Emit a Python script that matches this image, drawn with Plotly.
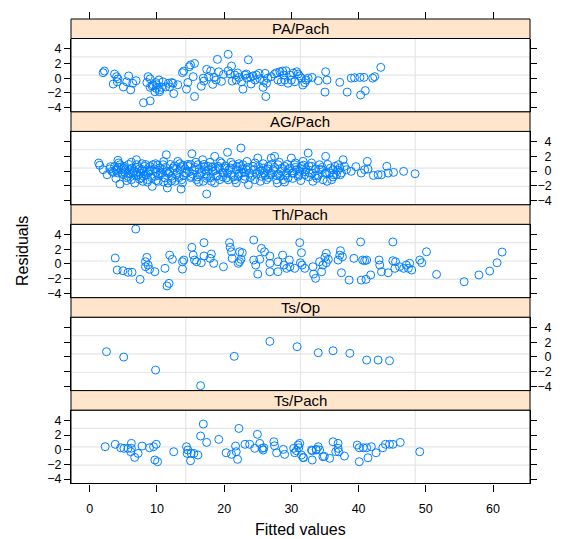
import plotly.graph_objects as go

# ---------------- data ----------------
panel_names = ["PA/Pach", "AG/Pach", "Th/Pach", "Ts/Op", "Ts/Pach"]

pa_x = [2.0, 2.2, 3.5, 3.7, 4.0, 4.2, 4.1, 5.0, 5.5, 5.8, 6.1, 6.4, 6.9, 8.0, 9.0, 8.7, 9.0, 9.0, 9.4, 9.8,
        9.7, 9.9, 10.3, 10.4, 10.7, 10.4, 11.3, 11.7, 12.2, 12.4, 12.5, 13.1, 13.8, 14.0, 14.4, 14.6, 14.8, 15.0,
        15.4, 15.6, 15.6, 16.6, 16.9, 17.4, 17.7, 18.0, 18.3, 18.5, 19.0, 18.8, 19.2, 19.6, 20.6, 20.6, 21.1,
        20.9, 21.2, 21.6, 21.8, 22.2, 22.6, 22.8, 23.1, 23.6, 23.3, 23.4, 23.9, 24.0, 24.6, 24.8, 25.2, 25.3,
        25.8, 25.9, 26.2, 26.1, 26.5, 26.3, 27.5, 27.8, 28.0, 28.3, 28.5, 28.7, 28.9, 29.0, 29.2, 29.5, 30.0,
        30.5, 30.8, 31.0, 31.2, 31.5, 31.7, 32.0, 32.2, 32.5, 33.1, 34.0, 35.0, 35.1, 35.3, 37.2, 38.3, 38.9,
        39.4, 40.2, 40.3, 40.8, 41.0, 42.1, 42.4, 43.3,
        8.5, 9.3, 10.0, 10.9, 11.9, 17.0, 19.9, 22.0, 24.3, 27.0, 29.8, 30.3]
pa_y = [0.74, 0.97, -0.8, 0.56, 0.2, -0.1, -0.5, -1.2, -0.5, 0.3, -1.6, -0.7, -0.35, -3.35, -3.1, 0.2, -0.1, -1.25,
        -0.9, -0.6, -1.85, -1.4, -0.25, -1.6, -1.25, -1.85, -1.2, -0.7, -0.6, -0.7, -2.1, -0.9, 0.74, 0.97, -1.5,
        -0.6, 1.55, 1.8, 0.2, -2.5, 2.0, -1.1, 0.0, 1.2, 0.2, 0.97, -0.85, 0.1, 2.56, -0.26, 0.87, -0.44, 3.24,
        1.0, 1.65, 0.56, -0.4, 0.42, -0.26, 0.1, -0.5, -1.5, 0.42, 2.5, 0.56, 0.0, 0.1, -0.8, -0.26, 0.42, 0.65,
        -0.1, -1.25, -0.4, -2.5, 0.65, 0.0, -0.7, 0.56, 0.74, -0.26, 0.87, -0.5, 0.97, 0.42, -0.26, 1.0, -0.7,
        -0.26, -0.5, 0.87, 0.56, 0.3, 0.0, -0.94, -0.63, -0.26, 0.0, 0.1, -0.35, -1.9, 0.87, -0.26, -0.57, -1.9,
        0.0, 0.05, 0.1, -2.3, 0.1, -1.7, 0.0, 0.2, 1.47,
        -0.6, -1.1, -0.9, -0.5, -1.2, -0.4, 0.5, 0.7, 0.3, 0.2, 0.4, 0.7]

ag_x = [1.34, 1.49, 2.0, 3.3, 3.7, 4.2, 4.0, 4.5, 4.2, 4.7, 5.0, 4.5, 5.1, 5.2, 5.7, 5.95, 6.2, 6.45, 6.7, 6.95,
        7.0, 7.2, 7.4, 7.7, 7.9, 8.1, 8.2, 8.4, 8.6, 8.9, 9.3, 9.4, 9.7, 9.9, 10.2, 10.4, 10.75, 10.9, 11.2,
        11.4, 11.55, 11.65, 11.9, 12.15, 12.4, 12.65, 12.9, 13.1, 13.4, 13.6, 13.7, 13.9, 14.4, 14.6, 15.1,
        15.2, 15.6, 15.9, 16.1, 16.4, 16.8, 16.9, 17.1, 17.4, 17.5, 17.6, 17.9, 18.1, 18.35, 18.6, 18.85, 19.1,
        19.35, 19.6, 19.85, 20.1, 20.3, 20.5, 20.7, 21.1, 21.3, 21.6, 21.8, 22.1, 22.3, 22.5, 22.6,
        22.8, 23.1, 23.3, 23.6, 23.8, 24.3, 24.55, 25.0, 25.3, 25.55, 25.8, 26.0, 26.3, 26.55, 26.8, 27.0,
        27.3, 27.5, 27.8, 27.9, 28.0, 28.3, 28.5, 28.8, 29.0, 29.3, 29.5, 29.8, 30.0, 30.25, 30.5, 30.75,
        31.0, 31.25, 31.5, 31.75, 32.0, 32.2, 32.5, 32.7, 33.0, 33.2, 33.5, 34.2, 34.5, 34.7, 35.1, 35.3,
        35.7, 36.0, 36.2, 36.5, 36.7, 37.0, 37.2, 37.45, 37.7, 37.9, 38.2, 38.9, 40.4, 40.9, 41.3, 41.4,
        42.9, 43.4, 44.2, 44.4, 45.2, 46.7, 48.4,
        3.0, 3.5, 3.9, 4.3, 4.8, 5.3, 5.5, 5.8, 6.0, 6.3, 6.6, 6.9, 7.1, 7.5, 7.8, 8.0, 8.3, 8.7, 9.0, 9.2,
        9.6, 9.9, 10.1, 10.5, 10.8, 11.0, 11.3, 11.7, 12.0, 12.3, 12.6, 13.0, 13.3, 13.6, 14.0, 14.2, 14.8,
        15.0, 15.3, 15.7, 16.0, 16.3, 16.6, 17.0, 17.3, 17.7, 18.0, 18.3, 18.7, 19.0, 19.3, 19.8, 20.2, 20.5,
        21.0, 21.4, 21.9, 22.2, 22.7, 23.0, 23.5, 23.9, 24.4, 24.8, 25.1, 25.6, 26.1, 26.5, 27.0, 27.5, 28.1,
        28.6, 29.1, 29.6, 30.1, 30.6, 31.1, 31.6, 32.1, 32.6, 33.1, 33.6, 34.0, 34.6, 35.2, 35.8, 36.3, 36.9,
        2.6, 3.1, 3.9, 4.3, 5.1, 5.5, 6.2, 6.6, 7.4, 7.8, 8.6, 9.0, 9.8, 10.2, 11.0, 11.4, 12.2, 12.6, 13.4,
        13.8, 14.6, 15.0, 15.8, 16.2, 17.0, 17.4, 18.2, 18.6, 19.4, 19.8, 20.6, 21.0, 21.8, 22.2, 23.0, 23.4,
        24.2, 24.6, 25.4, 25.8, 26.6, 27.0, 27.8, 28.2, 29.0, 29.4, 30.2, 30.6, 31.4, 31.8, 32.6, 33.0, 33.8,
        34.2, 35.0, 35.4, 36.2, 37.3, 39.6, 42.2]
ag_y = [1.09, 0.78, 0.18, -0.04, 0.64, 1.46, 0.27, 0.86, -0.27, 0.18, -0.5, -1.77, 0.64, -0.18, -0.72, 0.18,
        -1.18, -0.27, -1.63, 1.54, 0.86, -0.5, 0.27, -0.95, -1.4, -0.04, 0.64, -0.5, -1.18, 0.18, -2.1, 0.86,
        -0.72, -0.18, -1.4, 0.41, -0.27, 0.86, -0.95, 2.22, -2.3, -1.63, -0.04, -0.72, 0.41, -1.4, -0.5, 1.32,
        0.18, -2.45, -1.18, 0.78, -0.27, 0.64, -0.72, 2.36, 0.18, -1.18, 0.86, -0.5, 1.54, -1.4, 0.18, -3.13,
        -0.72, 0.64, 1.19, -1.4, -0.04, 2.0, -0.72, 0.64, -1.18, 1.09, -0.27, 0.41, -0.95, 2.55, 0.18, -0.5,
        0.86, -1.18, 0.18, -0.72, 0.64, 3.13, -0.27,
        0.86, -0.72, 0.18, -1.86, -0.27, 0.64, -1.18, 1.77, -0.04, -0.72, 0.41, -0.27, -1.18, 0.64, -0.5,
        1.77, 0.18, 2.0, -1.18, -1.63, 0.86, -0.72, -0.04, -1.18, 0.64, -0.27, -0.95, 0.41, 1.77, -0.27,
        0.86, 0.18, -0.72, -0.04, 0.64, 1.32, -0.5, 0.18, 2.45, -0.27, 0.64, -1.4, -0.64, 0.86, 0.18, -1.18,
        2.0, -1.4, -0.27, -1.18, 0.18, 0.64, -0.5, 0.86, 0.41, -0.27, 1.54, 0.64, 0.18, -0.04, -0.27, 0.18,
        1.32, 0.27, -0.5, -0.5, 0.64, -0.27, -0.18, -0.04, -0.37,
        0.3, -0.2, 0.1, 0.5, -0.3, 0.2, -0.9, 0.9, -0.4, 0.4, -0.1, -0.6, 0.5, -0.3, 0.2, -0.7, 0.9, -0.2, 0.6,
        -0.9, 0.3, -1.3, 0.8, -0.4, 0.2, -1.5, 0.5, -0.3, 0.9, -1.0, 0.2, -0.2, -0.9, 0.6, -0.6, 0.3, -0.1,
        0.9, -0.4, 0.5, -0.8, 0.3, -0.2, 0.6, -0.4, 0.2, -0.9, 0.6, 0.1, -0.6, 0.4, -0.8, 0.7, -0.3, 0.4,
        -0.8, 0.6, -0.4, 0.3, -0.2, 0.5, -0.9, 0.2, -0.4, 0.6, 0.1, -0.6, 0.3, -0.3, 0.5, -0.4, 0.4, -0.6,
        0.2, -0.3, 0.5, -0.5, 0.2, -0.1, 0.7, -0.3, 0.3, -0.6, 0.5, -0.2, 0.4, -0.5, 0.1,
        -0.5, 0.6, -1.0, 1.1, 0.4, -1.3, 1.2, 0.0, -1.1, 1.0, -1.5, 0.0, 1.0, -0.6, 1.3, -0.1, -1.3, 0.7, 1.0,
        -1.6, 0.9, -0.9, 1.2, -1.5, 0.9, -1.0, 0.5, -1.6, 1.3, -0.2, -1.2, 1.2, -1.6, 1.0, -1.1, 1.3, -0.6,
        1.1, -1.4, 1.0, -0.9, 0.9, -0.6, 1.2, -1.5, 0.9, -1.0, 1.1, -1.3, 0.8, -0.8, 1.1, -1.0, 0.2, -0.3,
        0.9, -0.8, -0.5, 0.6, -0.6]

th_x = [6.85, 3.8, 4.1, 4.95, 5.7, 6.3, 7.5, 8.3, 8.5, 8.3, 8.7, 8.9, 9.7, 11.2, 11.5, 11.8, 11.9, 12.3, 13.8,
        14.0, 13.8, 15.2, 15.4, 15.6, 15.9, 16.6, 17.0, 17.0, 17.9, 18.1, 18.45, 19.9, 20.8, 20.9, 21.1, 21.2,
        22.1, 22.3, 22.5, 22.7, 22.3, 24.4, 24.4, 24.7, 25.0, 25.3, 25.55, 26.0, 26.8, 26.8, 26.8, 28.0, 28.0,
        28.7, 28.9, 29.3, 29.7, 29.8, 30.5, 31.25, 31.5, 31.35, 31.6, 32.0, 33.2, 33.3, 33.6, 34.2, 34.5,
        34.7, 35.0, 35.2, 35.2, 35.5, 36.95, 37.2, 37.3, 37.6, 37.45, 38.6, 39.3, 40.3, 40.4, 40.6, 40.9,
        41.2, 41.1, 41.8, 43.05, 43.15, 43.4, 44.4, 45.1, 45.1, 45.5, 45.4, 46.1, 46.7, 47.1, 47.4, 47.6,
        47.9, 49.1, 49.4, 50.1, 51.6, 55.7, 57.9, 59.5, 60.6, 61.35]
th_y = [4.75, 0.8, -0.83, -0.93, -1.14, -1.14, -2.1, 0.3, 0.9, -0.38, -0.15, -0.74, -1.06, -0.6, -3.0, -2.65,
        1.2, 0.63, 0.3, 0.53, -0.7, 2.26, 1.2, 0.53, 0.3, 0.16, 2.9, 1.08, 0.76, 1.35, 0.08, -0.38, 2.9, 2.26,
        1.66, 0.76, 0.08, 1.66, 0.63, 1.53, 0.3, 3.26, 0.53, -0.15, -1.38, 0.63, 2.12, 1.66, 1.08, 0.08, -1.06,
        0.3, -1.06, 1.2, -0.15, -0.6, 0.53, -0.38, -0.6, 2.9, 1.53, 0.16, -0.15, -0.6, -0.38, -1.38, -1.96,
        0.3, -1.06, -0.15, 0.9, 1.44, 0.16, 0.63, 0.53, 1.2, 1.8, 0.98, -1.2, -2.2, 0.76, 3.0, -2.2, 0.53,
        0.44, 0.53, -2.1, -1.5, 0.53, -0.15, -1.06, -1.2, 3.0, 0.44, 0.3, -0.6, -0.38, -0.6, -0.15, -0.6, 0.08,
        -0.83, 0.53, 0.16, 1.66, -1.42, -2.42, -1.5, -0.97, 0.16, 1.62]

op_x = [2.5, 5.06, 9.8, 16.5, 21.5, 26.8, 30.85, 34.0, 36.2, 38.7, 41.2, 42.9, 44.6]
op_y = [0.7, -0.03, -1.8, -3.93, 0.07, 2.1, 1.38, 0.56, 0.83, 0.48, -0.44, -0.44, -0.53]

ts_x = [2.3, 3.8, 4.6, 5.1, 5.7, 6.2, 6.2, 6.1, 6.7, 7.2, 7.8, 8.9, 9.5, 9.9, 9.7, 10.1, 12.5, 14.4, 14.5, 14.6,
        15.0, 15.1, 15.5, 16.1, 16.5, 16.9, 17.4, 19.2, 20.3, 21.1, 21.7, 21.8, 22.0, 22.2, 23.1, 23.8, 24.55,
        24.95, 25.3, 25.8, 25.65, 25.9, 27.4, 27.5, 27.8, 28.8, 29.0, 30.35, 30.5, 30.75, 31.25, 31.1, 31.75,
        33.0, 33.1, 33.7, 34.0, 34.2, 34.7, 33.7, 33.1, 34.9, 35.7, 36.2, 36.6, 36.95, 36.95, 37.05, 37.9,
        39.8, 40.1, 40.1, 40.7, 41.2, 41.4, 41.9, 42.6, 43.6, 44.0, 44.6, 45.1, 46.2, 49.1, 31.8, 31.5, 31.0]
ts_y = [0.41, 0.74, 0.27, 0.19, 0.19, 0.87, 0.19, -0.27, -1.04, -0.5, 0.5, 0.27, 0.41, 0.74, -1.4, -1.63,
        -0.27, 0.41, -0.5, -0.04, -1.5, -0.5, -0.5, -0.72, 1.87, 3.5, 1.0, 1.41, -0.41, -0.63, 0.5, -0.27,
        -1.31, 2.9, 0.74, 0.74, 0.19, 2.1, 0.87, -0.04, 0.19, 0.27, 1.09, 0.54, -0.41, 0.05, -0.63, 0.19,
        -0.41, -0.14, 0.87, 0.27, -1.04, -0.04, -1.4, 0.05, 0.41, -0.04, -0.95, -0.04, -0.14, -0.9, -1.17,
        1.09, -0.27, 0.87, 0.19, -0.27, -0.86, 0.64, -1.63, 0.27, 0.27, 0.27, -1.09, 0.41, -0.41, 0.27, 0.74,
        0.74, 0.74, 1.0, -0.27, -1.09, -0.72, 0.64]

panel_x = [pa_x, ag_x, th_x, op_x, ts_x]
panel_y = [pa_y, ag_y, th_y, op_y, ts_y]

x_ticks = [0, 10, 20, 30, 40, 50, 60]
y_ticks = [-4, -2, 0, 2, 4]
y_tick_text_left = ["\u22124", "\u22122", "0", "2", "4"]
y_tick_text_right = ["\u22124", "\u22122", "\u20070", "\u20072", "\u20074"]
x_range = [-2.78, 65.5]
y_range = [-4.6, 5.4]

# ---------------- layout geometry ----------------
# page body has an 8px default margin: the figure is sized/positioned to compensate
OFF = 8
SW, SH = 563, 539            # screenshot size
W, H = SW - OFF, SH - OFF    # figure size
X0, X1 = 71, 530             # panel left/right in screenshot pixels
TOP = 19.0
PANEL_H = 92.9
STRIP_H = 19.5
FONT = "Liberation Sans, Arial, Helvetica, sans-serif"
PT_COL = "#0080ff"
GRID_COL = "#e6e6e6"


def px_(sx):
    return (sx - OFF) / W


def py_(sy):
    return 1 - (sy - OFF) / H


x_grid = [x_range[0] + (x_range[1] - x_range[0]) * i / 4 for i in (1, 2, 3)]
y_grid = [y_range[0] + (y_range[1] - y_range[0]) * i / 4 for i in (1, 2, 3)]

fig = go.Figure()
shapes = []
annotations = []
layout_axes = {}

for k, name in enumerate(panel_names):
    n = k + 1
    xa = "x" if n == 1 else f"x{n}"
    ya = "y" if n == 1 else f"y{n}"
    top = TOP + k * PANEL_H
    body_top = top + STRIP_H
    body_bot = top + PANEL_H

    fig.add_trace(go.Scatter(
        x=panel_x[k], y=panel_y[k], mode="markers", xaxis=xa, yaxis=ya,
        marker=dict(symbol="circle-open", size=8, color=PT_COL, line=dict(width=1, color=PT_COL)),
        showlegend=False, hoverinfo="skip"))

    xkey = "xaxis" if n == 1 else f"xaxis{n}"
    ykey = "yaxis" if n == 1 else f"yaxis{n}"

    xd = dict(domain=[px_(X0), px_(X1)], range=x_range, showgrid=False, zeroline=False,
              showline=False, tickvals=x_ticks, tickcolor="black", ticklen=7, tickwidth=1,
              automargin=False, ticklabelstandoff=6,
              tickfont=dict(family=FONT, size=12.5, color="black"))
    if n > 1:
        xd["matches"] = "x"
    if k == 0:
        xd.update(anchor="free", position=py_(TOP), side="top", ticks="outside", showticklabels=False)
    elif k == 4:
        xd.update(anchor=ya, side="bottom", ticks="outside", showticklabels=True)
    else:
        xd.update(anchor=ya, ticks="", showticklabels=False)
    layout_axes[xkey] = xd

    right = (k % 2 == 1)
    yd = dict(domain=[py_(body_bot), py_(body_top)], range=y_range, anchor=xa,
              side="right" if right else "left", ticks="outside", ticklen=6, tickwidth=1,
              tickcolor="black", mirror="ticks", showline=True, linecolor="black", linewidth=1,
              showgrid=False, zeroline=False, tickvals=y_ticks,
              ticktext=y_tick_text_right if right else y_tick_text_left, automargin=False,
              tickfont=dict(family=FONT, size=12.5, color="black"))
    if right:
        yd["ticklabelstandoff"] = -2
    layout_axes[ykey] = yd

    # grid lines
    for gx in x_grid:
        shapes.append(dict(type="line", xref=xa, yref=f"{ya} domain", x0=gx, x1=gx, y0=0, y1=1,
                           line=dict(color=GRID_COL, width=1.2), layer="below"))
    for gy in y_grid:
        shapes.append(dict(type="line", xref=f"{xa} domain", yref=ya, x0=0, x1=1, y0=gy, y1=gy,
                           line=dict(color=GRID_COL, width=1.2), layer="below"))
    # body border
    shapes.append(dict(type="rect", xref="paper", yref="paper", x0=px_(X0), x1=px_(X1),
                       y0=py_(body_bot), y1=py_(body_top), line=dict(color="black", width=1),
                       fillcolor="rgba(0,0,0,0)", layer="above"))
    # strip
    shapes.append(dict(type="rect", xref="paper", yref="paper", x0=px_(X0), x1=px_(X1),
                       y0=py_(body_top), y1=py_(top), line=dict(color="black", width=1),
                       fillcolor="#ffe5cc", layer="above"))
    annotations.append(dict(text=name, xref="paper", yref="paper", x=px_((X0 + X1) / 2),
                            y=py_(top + STRIP_H / 2), showarrow=False, xanchor="center", yanchor="middle",
                            font=dict(family=FONT, size=15, color="black")))

annotations.append(dict(text="Fitted values", xref="paper", yref="paper", x=px_((X0 + X1) / 2),
                        y=py_(529), showarrow=False, xanchor="center", yanchor="middle",
                        font=dict(family=FONT, size=16, color="black")))
annotations.append(dict(text="Residuals", xref="paper", yref="paper", x=px_(22), y=py_(251),
                        showarrow=False, xanchor="center", yanchor="middle", textangle=-90,
                        font=dict(family=FONT, size=16, color="black")))

fig.update_layout(width=W, height=H, margin=dict(l=0, r=0, t=0, b=0),
                  paper_bgcolor="white", plot_bgcolor="white",
                  shapes=shapes, annotations=annotations, **layout_axes)

fig.write_html("out.html")
